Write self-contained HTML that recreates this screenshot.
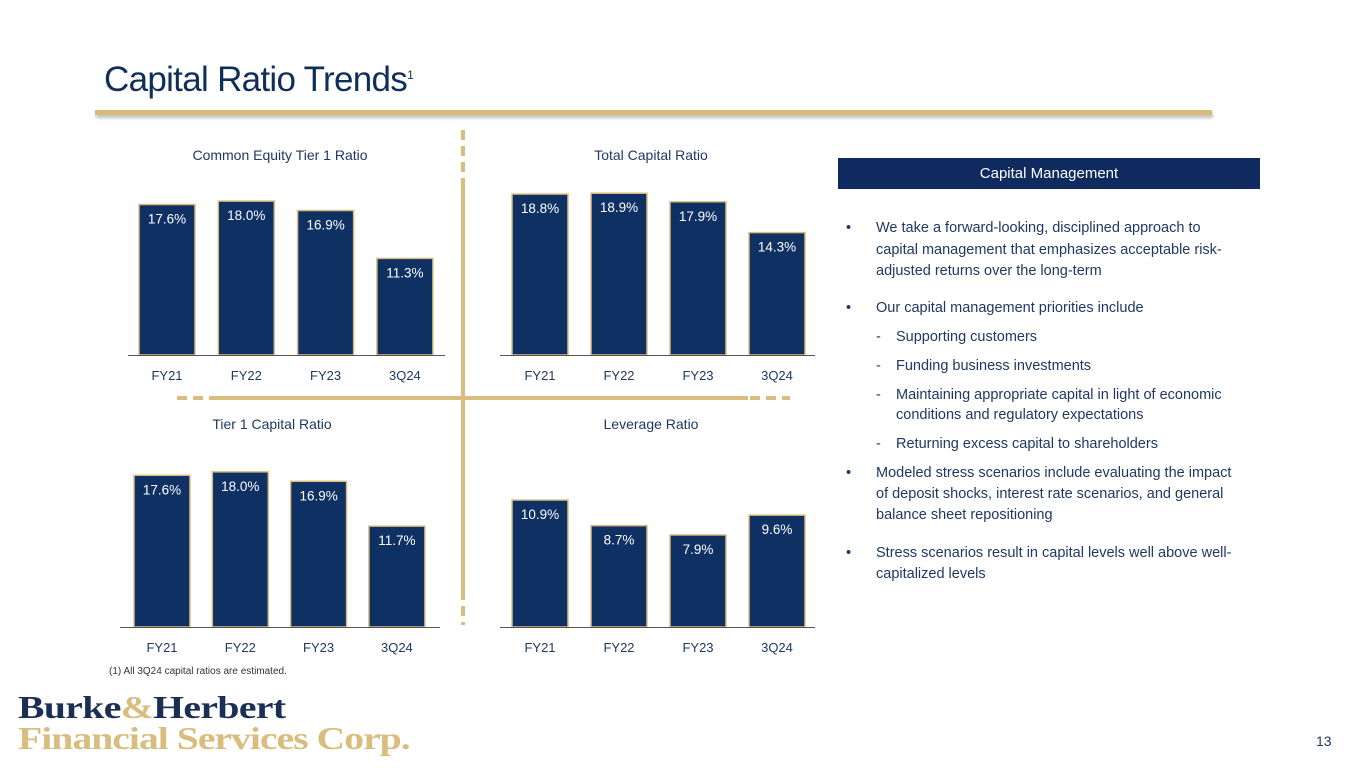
<!DOCTYPE html>
<html><head><meta charset="utf-8"><style>
html,body{margin:0;padding:0;background:#fff;}
body{width:1365px;height:768px;position:relative;overflow:hidden;font-family:"Liberation Sans",sans-serif;}
.t{position:absolute;white-space:nowrap;color:#1f3864;font-size:14.5px;}
</style></head><body>
<div style="position:absolute;left:104px;top:60px;font-size:35px;color:#0f2f5a;letter-spacing:-0.7px;">Capital Ratio Trends<sup style="font-size:12px;vertical-align:top;position:relative;top:8px;">1</sup></div>
<div style="position:absolute;left:95px;top:110px;width:1117px;height:5px;background:#d7bb7b;box-shadow:1px 3px 3px rgba(0,0,0,0.25);"></div>

<svg id="charts" width="1365" height="768" style="position:absolute;left:0;top:0;" font-family="Liberation Sans, sans-serif"></svg>

<div style="position:absolute;left:838px;top:158px;width:422px;height:31px;background:#0f2a5e;color:#fff;font-size:15px;text-align:center;line-height:31px;">Capital Management</div>
<div>
<div class="t" style="left:846px;top:220px;">•</div>
<div class="t" style="left:876px;top:220px;">We take a forward-looking, disciplined approach to</div>
<div class="t" style="left:876px;top:242px;">capital management that emphasizes acceptable risk-</div>
<div class="t" style="left:876px;top:263px;">adjusted returns over the long-term</div>
<div class="t" style="left:846px;top:300px;">•</div>
<div class="t" style="left:876px;top:300px;">Our capital management priorities include</div>
<div class="t" style="left:876px;top:329px;">-</div><div class="t" style="left:896px;top:329px;">Supporting customers</div>
<div class="t" style="left:876px;top:358px;">-</div><div class="t" style="left:896px;top:358px;">Funding business investments</div>
<div class="t" style="left:876px;top:387px;">-</div><div class="t" style="left:896px;top:387px;">Maintaining appropriate capital in light of economic</div>
<div class="t" style="left:896px;top:407px;">conditions and regulatory expectations</div>
<div class="t" style="left:876px;top:436px;">-</div><div class="t" style="left:896px;top:436px;">Returning excess capital to shareholders</div>
<div class="t" style="left:846px;top:465px;">•</div>
<div class="t" style="left:876px;top:465px;">Modeled stress scenarios include evaluating the impact</div>
<div class="t" style="left:876px;top:486px;">of deposit shocks, interest rate scenarios, and general</div>
<div class="t" style="left:876px;top:507px;">balance sheet repositioning</div>
<div class="t" style="left:846px;top:545px;">•</div>
<div class="t" style="left:876px;top:545px;">Stress scenarios result in capital levels well above well-</div>
<div class="t" style="left:876px;top:566px;">capitalized levels</div>
</div>

<div style="position:absolute;left:109px;top:666px;font-size:10px;color:#333;">(1) All 3Q24 capital ratios are estimated.</div>
<div style="position:absolute;left:18px;top:692px;font-family:'Liberation Serif',serif;font-weight:bold;line-height:31px;transform:scaleX(1.24);transform-origin:0 0;">
<div style="font-size:32px;color:#1b2f55;letter-spacing:-0.5px;">Burke<span style="color:#d9bd7e;">&amp;</span>Herbert</div>
<div style="font-size:32px;color:#d9bd7e;letter-spacing:-0.8px;">Financial Services Corp.</div>
</div>
<div style="position:absolute;left:1316px;top:733px;font-size:14px;color:#1f3864;">13</div>

<script>
const categories = ["FY21","FY22","FY23","3Q24"];
const cet1Values = [17.6, 18.0, 16.9, 11.3];
const totalValues = [18.8, 18.9, 17.9, 14.3];
const tier1Values = [17.6, 18.0, 16.9, 11.7];
const leverageValues = [10.9, 8.7, 7.9, 9.6];
const chartTitles = ["Common Equity Tier 1 Ratio","Total Capital Ratio","Tier 1 Capital Ratio","Leverage Ratio"];

const NS="http://www.w3.org/2000/svg";
const svg=document.getElementById('charts');
function mk(tag,attrs,parent){const e=document.createElementNS(NS,tag);for(const k in attrs)e.setAttribute(k,attrs[k]);(parent||svg).appendChild(e);return e;}

const g0=mk('g',{});


mk('line',{x1:463,y1:130,x2:463,y2:178,stroke:'#d9bd7e','stroke-width':4,'stroke-dasharray':'10,6'},g0);
mk('line',{x1:463,y1:178,x2:463,y2:590,stroke:'#d9bd7e','stroke-width':4},g0);
mk('line',{x1:463,y1:590,x2:463,y2:625,stroke:'#d9bd7e','stroke-width':4,'stroke-dasharray':'10,6'},g0);
mk('line',{x1:177,y1:398,x2:215,y2:398,stroke:'#d9bd7e','stroke-width':4,'stroke-dasharray':'10,6'},g0);
mk('line',{x1:215,y1:398,x2:748,y2:398,stroke:'#d9bd7e','stroke-width':4},g0);
mk('line',{x1:750,y1:398,x2:790,y2:398,stroke:'#d9bd7e','stroke-width':4,'stroke-dasharray':'10,6'},g0);

function chart(name,title,values,cfg){
  const g=mk('g',{});
  
  
  const y=v=>cfg.base - v*cfg.scale;
  const xAt=i=>cfg.x0 + i*cfg.step;
  const tt=mk('text',{x:cfg.cx,y:cfg.titleY,'text-anchor':'middle','font-size':14,fill:'#1f3864'},g);
  tt.textContent=title;
  
  
  values.forEach((v,i)=>{
    const r=mk('rect',{x:xAt(i),y:y(v),width:56,height:v*cfg.scale,fill:'#0f3063',stroke:'#d9bd7e','stroke-width':1.5},g);
    
    
    const t=mk('text',{x:xAt(i)+28,y:y(v)+19,'text-anchor':'middle','font-size':13.5,fill:'#fff'},g);
    t.textContent=v.toFixed(1)+'%';
    
    
    const c=mk('text',{x:xAt(i)+28,y:cfg.base+25,'text-anchor':'middle','font-size':13,fill:'#1f3864'},g);
    c.textContent=categories[i];
    
    
  });
  const l=mk('line',{x1:cfg.lx1,y1:cfg.base+0.5,x2:cfg.lx2,y2:cfg.base+0.5,stroke:'#555','stroke-width':1},g);
  
  
}
chart('cet1-chart',chartTitles[0],cet1Values,{base:355,scale:8.55,x0:139,step:79.3,cx:280,titleY:160,lx1:128,lx2:445});
chart('total-capital-chart',chartTitles[1],totalValues,{base:355,scale:8.56,x0:512,step:79,cx:651,titleY:160,lx1:500,lx2:815});
chart('tier1-chart',chartTitles[2],tier1Values,{base:627,scale:8.62,x0:134,step:78.3,cx:272,titleY:429,lx1:120,lx2:440});
chart('leverage-chart',chartTitles[3],leverageValues,{base:627,scale:11.65,x0:512,step:79,cx:651,titleY:429,lx1:500,lx2:815});
</script>
</body></html>
